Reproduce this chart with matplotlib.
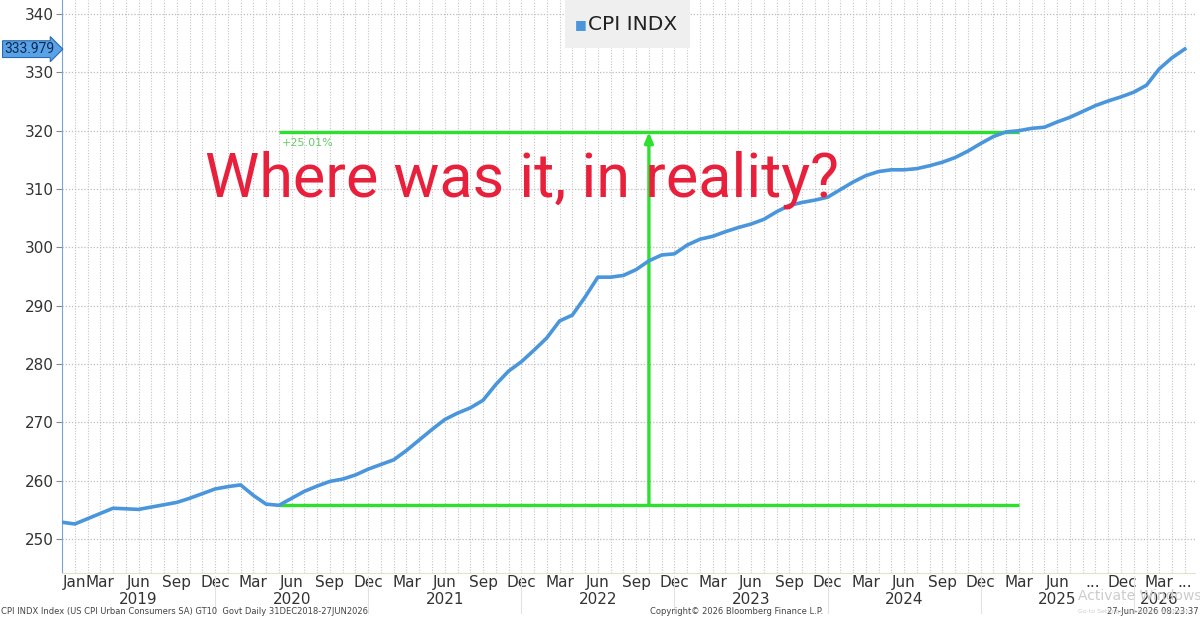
import matplotlib.pyplot as plt
from matplotlib.patches import Rectangle
from matplotlib.transforms import blended_transform_factory

# CPI INDX theo tháng (tháng 0 = cuối 12/2018, tháng 1 = 01/2019)
cpi_values = [
    252.9, 252.6, 253.5, 254.4, 255.3, 255.2, 255.1, 255.5, 255.9, 256.3,
    257.0, 257.8, 258.6, 259.0, 259.3, 257.5, 256.0, 255.8, 257.0, 258.2,
    259.1, 259.9, 260.3, 261.0, 262.0, 262.8, 263.6, 265.2, 267.0, 268.8,
    270.5, 271.6, 272.5, 273.8, 276.5, 278.8, 280.4, 282.4, 284.5, 287.4,
    288.4, 291.5, 294.9, 294.9, 295.2, 296.2, 297.7, 298.7, 298.9, 300.4,
    301.4, 301.9, 302.7, 303.4, 304.0, 304.8, 306.1, 307.2, 307.7, 308.1,
    308.6, 309.9, 311.2, 312.3, 313.0, 313.3, 313.3, 313.5, 314.0, 314.6,
    315.4, 316.5, 317.8, 319.0, 319.8, 320.0, 320.4, 320.6, 321.5, 322.3,
    323.3, 324.3, 325.1, 325.8, 326.6, 327.8, 330.6, 332.5, 334.0,
]
months = list(range(len(cpi_values)))

month_pos = [1, 3, 6, 9, 12, 15, 18, 21, 24, 27, 30, 33, 36, 39, 42, 45, 48,
             51, 54, 57, 60, 63, 66, 69, 72, 75, 78, 80.8, 83.1, 86, 88]
month_labels = ['Jan', 'Mar', 'Jun', 'Sep', 'Dec', 'Mar', 'Jun', 'Sep', 'Dec',
                'Mar', 'Jun', 'Sep', 'Dec', 'Mar', 'Jun', 'Sep', 'Dec',
                'Mar', 'Jun', 'Sep', 'Dec', 'Mar', 'Jun', 'Sep', 'Dec',
                'Mar', 'Jun', '...', 'Dec', 'Mar', '...']
year_pos = [6, 18, 30, 42, 54, 66, 78, 86]
year_labels = ['2019', '2020', '2021', '2022', '2023', '2024', '2025', '2026']
year_breaks = [12, 24, 36, 48, 60, 72, 84]

# Đường xanh lá: mức đáy, mức đỉnh (+25.01%)
base_start, base_end, arrow_month = 17, 75, 46
base_value = 255.8
pct_change = 25.01
top_value = base_value * (1 + pct_change / 100)
last_value = 333.979

BLUE = '#4a96dc'
GREEN = '#2ee02e'

fig = plt.figure(figsize=(12, 6.18), dpi=100)
ax = fig.add_axes([62 / 1200, 1 - 573 / 618, (1195 - 62) / 1200, 573 / 618])
ax.set_xlim(0, 88.8)
ax.set_ylim(244.2, 342.4)

# lưới chấm
for m in range(0, 89):
    ax.axvline(m, color='#c4c4c4', linestyle=(0, (1, 1.5)), linewidth=0.8, zorder=0)
for v in range(250, 341, 10):
    ax.axhline(v, color='#bdbdbd', linestyle=(0, (1, 1.5)), linewidth=0.9, zorder=0)

ax.plot(months, cpi_values, color=BLUE, linewidth=2.6, solid_joinstyle='round', zorder=4)

# chú thích xanh lá
ax.hlines([base_value, top_value], base_start, base_end, color=GREEN, linewidth=2.4, zorder=3)
ax.annotate('', xy=(arrow_month, top_value), xytext=(arrow_month, base_value),
            arrowprops=dict(arrowstyle='-|>,head_width=0.25,head_length=0.6',
                            color=GREEN, lw=2.4, shrinkA=0, shrinkB=0), zorder=3)
ax.text(base_start + 0.2, top_value - 1.0, f'+{pct_change:.2f}%', color='#66cc66',
        fontsize=8, ha='left', va='top')

fig.text(205 / 1200, 1 - 197 / 618, 'Where was it, in reality?', color='#e8203c',
         fontsize=44, family=['Roboto', 'DejaVu Sans'], va='baseline')

# trục
for s in ['top', 'right']:
    ax.spines[s].set_visible(False)
ax.spines['left'].set_color('#7aa6d6')
ax.spines['bottom'].set_color('#e6e2c8')
ax.set_yticks(range(250, 341, 10))
ax.tick_params(axis='y', length=4, color='#888888', labelsize=11, labelcolor='#333333', pad=2)
ax.set_xticks(month_pos, month_labels)
ax.tick_params(axis='x', length=0, labelsize=11, labelcolor='#333333', pad=1.5)

trans = blended_transform_factory(ax.transData, ax.transAxes)
for p, lab in zip(year_pos, year_labels):
    ax.text(p, -0.033, lab, transform=trans, ha='center', va='top', fontsize=11, color='#333333')
for b in year_breaks:
    ax.plot([b, b], [-0.005, -0.07], transform=trans, color='#e2e2e2', linewidth=0.8, clip_on=False)

# nhãn giá trị cuối
trans_y = blended_transform_factory(ax.transAxes, ax.transData)
ax.text(-0.007, last_value, f'{last_value:.3f}', transform=trans_y, ha='right', va='center',
        fontsize=10, family=['Roboto', 'DejaVu Sans'], color='#0d2a55',
        bbox=dict(boxstyle='rarrow,pad=0.1', fc='#5aa2e6', ec='#2a6ab0', lw=0.8))

# legend
ax.add_patch(Rectangle((565 / 1200, 1 - 48 / 618), 125 / 1200, 48 / 618, transform=fig.transFigure,
                       fc='#efefef', ec='none', zorder=5))
fig.text(581 / 1200, 1 - 25 / 618, '■', color=BLUE, fontsize=9, ha='center', va='center', zorder=6)
fig.text(588 / 1200, 1 - 25 / 618, 'CPI INDX', color='#222222', fontsize=14.5, ha='left', va='center', zorder=6)

# chân trang
fig.text(0.001, 0.004, 'CPI INDX Index (US CPI Urban Consumers SA) GT10  Govt Daily 31DEC2018-27JUN2026',
         fontsize=6, color='#444444', ha='left', va='bottom')
fig.text(650 / 1200, 0.004, 'Copyright\u00a9 2026 Bloomberg Finance L.P.', fontsize=6,
         color='#444444', ha='left', va='bottom')
fig.text(0.999, 0.004, '27-Jun-2026 08:23:37', fontsize=6, color='#444444', ha='right', va='bottom')
fig.text(1078 / 1200, 1 - 600 / 618, 'Activate Windows', fontsize=10, color='#cccccc', ha='left', va='baseline')
fig.text(1078 / 1200, 1 - 613 / 618, 'Go to Settings to activate Windows.', fontsize=4.5, color='#cccccc',
         ha='left', va='baseline')

fig.savefig('out.png', dpi=100)
